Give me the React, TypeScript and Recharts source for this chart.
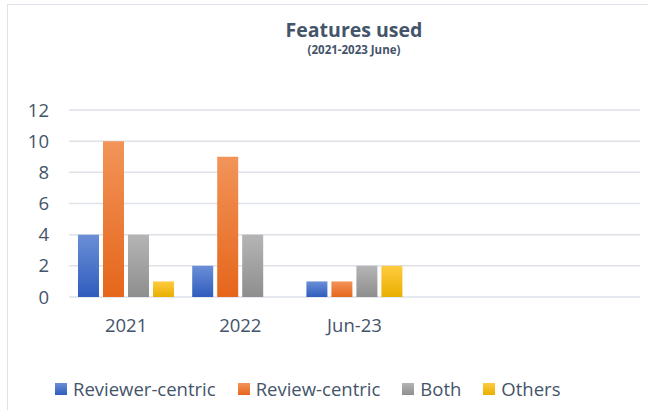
import React from "react";
import { BarChart, Bar, XAxis, YAxis, CartesianGrid } from "recharts";

const categories = ["2021", "2022", "Jun-23", "", " "];
const reviewerCentric = [4, 2, 1, null, null];
const reviewCentric = [10, 9, 1, null, null];
const both = [4, 4, 2, null, null];
const others = [1, null, 2, null, null];
const yTicks = [0, 2, 4, 6, 8, 10, 12];

const series = [
  { key: "reviewer", name: "Reviewer-centric", top: "#6B8FD6", bottom: "#2F5DBE" },
  { key: "review", name: "Review-centric", top: "#F29459", bottom: "#E5661B" },
  { key: "both", name: "Both", top: "#B5B5B5", bottom: "#8E8E8E" },
  { key: "others", name: "Others", top: "#FFCB40", bottom: "#E8B000" },
];

const data = categories.map((c, i) => ({
  name: c,
  reviewer: reviewerCentric[i],
  review: reviewCentric[i],
  both: both[i],
  others: others[i],
}));

const FONT = "'Open Sans', 'Liberation Sans', sans-serif";
const TEXT = "#44546A";

const ChartLegend = () => (
  <div
    style={{
      position: "absolute",
      left: 55,
      top: 377,
      display: "flex",
      fontFamily: FONT,
      fontSize: 18.5,
      lineHeight: "24px",
      color: TEXT,
    }}
  >
    {series.map((s) => (
      <div key={s.key} style={{ display: "flex", alignItems: "center", marginRight: 22 }}>
        <span
          style={{
            display: "inline-block",
            width: 12,
            height: 12,
            marginRight: 6,
            background: `linear-gradient(${s.top}, ${s.bottom})`,
          }}
        />
        <span>{s.name}</span>
      </div>
    ))}
  </div>
);

export default function App() {
  return (
    <div style={{ position: "absolute", left: 0, top: 0, width: 648, height: 410, background: "#fff", overflow: "hidden" }}>
      <div
        style={{
          position: "absolute",
          left: 7,
          top: 4,
          width: 660,
          height: 420,
          borderTop: "1.5px solid #DDE3EA",
          borderLeft: "1.5px solid #DDE3EA",
        }}
      />
      <div
        style={{
          position: "absolute",
          left: 254,
          width: 200,
          top: 16,
          textAlign: "center",
          fontFamily: FONT,
          color: TEXT,
        }}
      >
        <div style={{ fontSize: 19.5, fontWeight: 700, lineHeight: "27px" }}>Features used</div>
        <div style={{ fontSize: 11.5, fontWeight: 700, lineHeight: "13px" }}>(2021-2023 June)</div>
      </div>
      <BarChart
        width={648}
        height={410}
        data={data}
        margin={{ top: 110, right: 8, left: 0, bottom: 0 }}
        barCategoryGap={9}
        barGap={4}
        style={{ position: "absolute", left: 0, top: 0 }}
      >
        <defs>
          {series.map((s) => (
            <linearGradient key={s.key} id={`g-${s.key}`} x1="0" y1="0" x2="0" y2="1">
              <stop offset="0%" stopColor={s.top} />
              <stop offset="100%" stopColor={s.bottom} />
            </linearGradient>
          ))}
        </defs>
        <CartesianGrid vertical={false} stroke="#DDE1E8" strokeWidth={1.5} />
        <XAxis
          dataKey="name"
          axisLine={false}
          tickLine={false}
          tickMargin={16}
          height={113}
          tick={{ fill: TEXT, fontSize: 18.5, fontFamily: FONT }}
        />
        <YAxis
          domain={[0, 12]}
          ticks={yTicks}
          width={69}
          axisLine={false}
          tickLine={false}
          tickMargin={14}
          tick={{ fill: TEXT, fontSize: 18.5, fontFamily: FONT }}
        />
        {series.map((s) => (
          <Bar key={s.key} dataKey={s.key} name={s.name} fill={`url(#g-${s.key})`} isAnimationActive={false} />
        ))}
      </BarChart>
      <ChartLegend />
    </div>
  );
}
